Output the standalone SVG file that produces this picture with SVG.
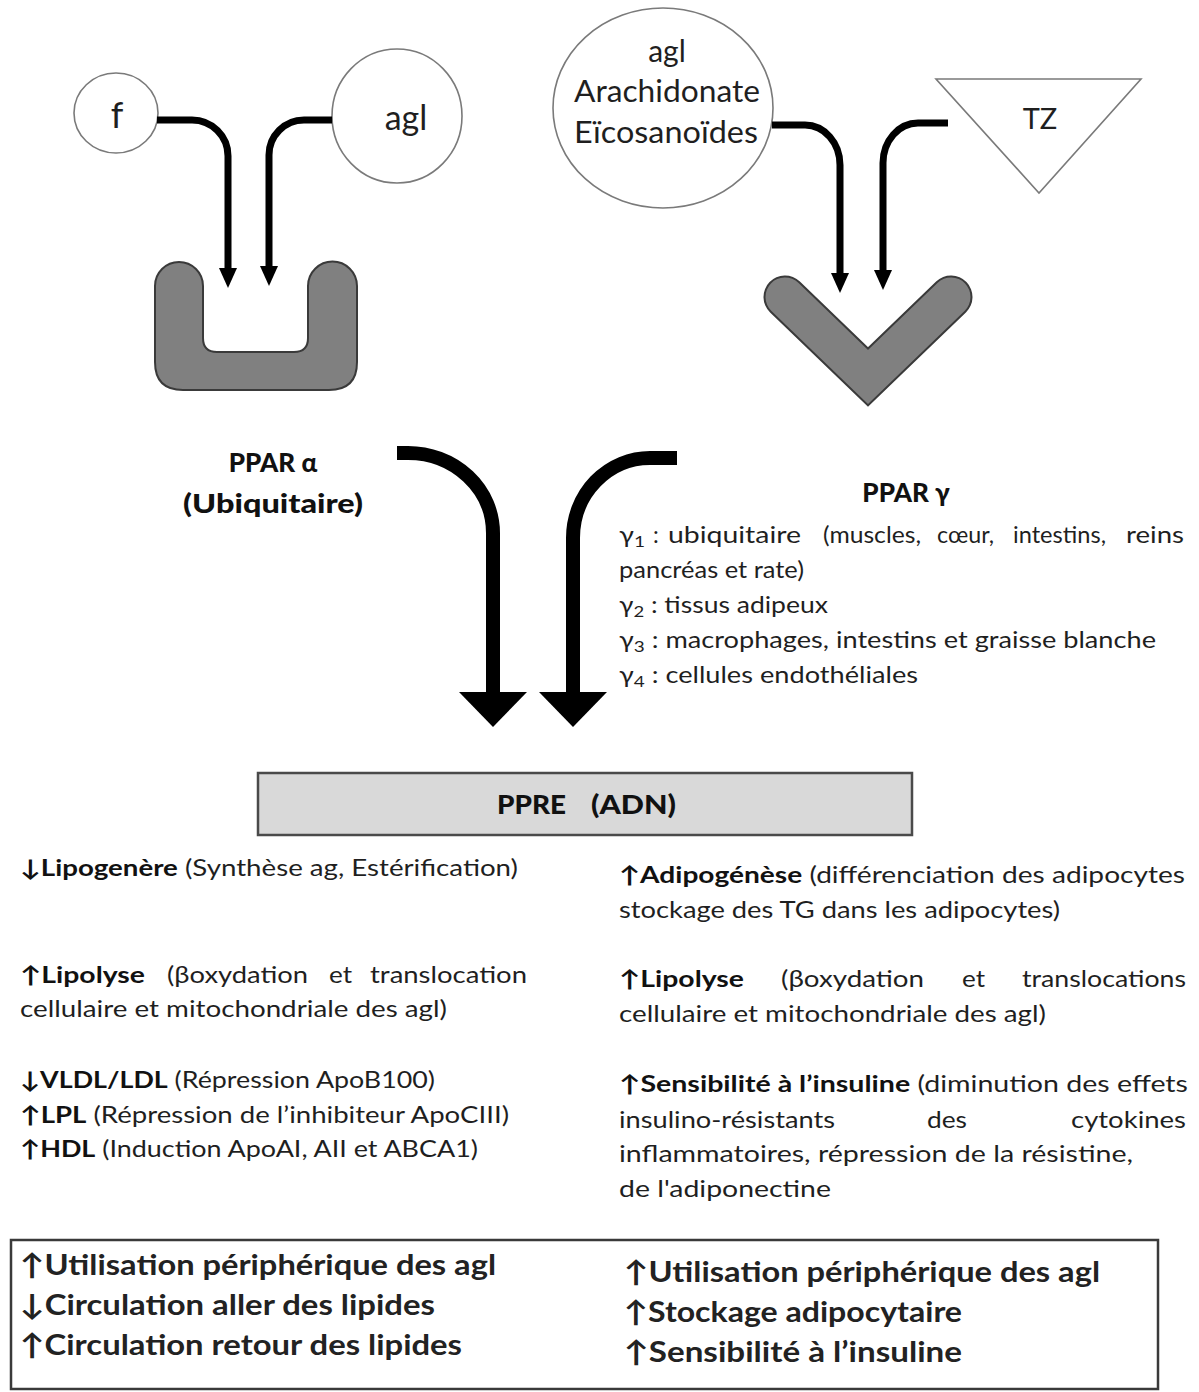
<svg xmlns="http://www.w3.org/2000/svg" width="1199" height="1392" viewBox="0 0 1199 1392">
<defs>
<style>
.t{font-family:Lato,"Open Sans","Liberation Sans",sans-serif;font-size:23px;fill:#1f1f1f}
.b{font-weight:bold;fill:#111}
.h{font-family:Lato,"Open Sans","Liberation Sans",sans-serif;font-size:26px;font-weight:900;fill:#111}
.big{font-family:Lato,"Open Sans","Liberation Sans",sans-serif;font-size:29px;font-weight:bold;fill:#222}
.node{fill:#fff;stroke:#7a7a7a;stroke-width:1.6}
.thin{fill:none;stroke:#000;stroke-width:7}
.thick{fill:none;stroke:#000;stroke-width:14}
.rec{fill:#808080;stroke:#3a3a3a;stroke-width:2}
</style>
<marker id="ah" viewBox="0 0 20 18" refX="0" refY="9" markerWidth="20" markerHeight="18" markerUnits="userSpaceOnUse" orient="auto">
<path d="M0,0 L20,9 L0,18 Z" fill="#000"/>
</marker>
</defs>
<rect width="1199" height="1392" fill="#fff"/>

<g id="node-f">
<ellipse class="node" cx="116" cy="113" rx="42" ry="40"/>
<text class="t" x="117" y="128" style="font-size:36px" text-anchor="middle">f</text>
</g>
<g id="node-agl">
<ellipse class="node" cx="397" cy="116" rx="65" ry="67"/>
<text class="t" x="406" y="130" style="font-size:34px" text-anchor="middle">agl</text>
</g>
<g id="node-agl2">
<ellipse class="node" cx="663" cy="108" rx="110" ry="100"/>
<text class="t" x="667" y="62" style="font-size:30px" text-anchor="middle">agl</text>
<text class="t" x="667" y="102" style="font-size:30px" text-anchor="middle" textLength="186" lengthAdjust="spacingAndGlyphs">Arachidonate</text>
<text class="t" x="666" y="143" style="font-size:30px" text-anchor="middle" textLength="184" lengthAdjust="spacingAndGlyphs">Eïcosanoïdes</text>
</g>
<g id="node-tz">
<polygon class="node" points="936,79 1141,79 1039,193"/>
<text class="t" x="1040" y="129" style="font-size:29px" text-anchor="middle">TZ</text>
</g>
<g id="ppar-alpha">
<path class="rec" d="M155,286 A24,24 0 0 1 203,286 L203,338 Q203,352 217,352 L294,352 Q308,352 308,338 L308,286 A24.5,24.5 0 0 1 357,286 L357,362 Q357,390 329,390 L183,390 Q155,390 155,362 Z"/>
<text class="h" x="273" y="472" text-anchor="middle">PPAR α</text>
<text class="h" x="273" y="513" text-anchor="middle" textLength="180" lengthAdjust="spacingAndGlyphs">(Ubiquitaire)</text>
</g>
<g id="ppar-gamma">
<path d="M785,297 L868,377 L951,297" fill="none" stroke="#3a3a3a" stroke-width="43" stroke-linecap="round" stroke-linejoin="miter"/>
<path d="M785,297 L868,377 L951,297" fill="none" stroke="#808080" stroke-width="39" stroke-linecap="round" stroke-linejoin="miter"/>
<text class="h" x="906" y="502" text-anchor="middle">PPAR γ</text>
<text class="t" x="619" y="543" textLength="26" lengthAdjust="spacingAndGlyphs">γ<tspan style="font-size:16px" dy="4">1</tspan></text>
<text class="t" x="653" y="543">:</text>
<text class="t" x="668" y="543" textLength="133" lengthAdjust="spacingAndGlyphs">ubiquitaire</text>
<text class="t" x="823" y="543" textLength="98" lengthAdjust="spacingAndGlyphs">(muscles,</text>
<text class="t" x="937" y="543" textLength="57" lengthAdjust="spacingAndGlyphs">cœur,</text>
<text class="t" x="1013" y="543" textLength="93" lengthAdjust="spacingAndGlyphs">intestins,</text>
<text class="t" x="1126" y="543" textLength="58" lengthAdjust="spacingAndGlyphs">reins</text>
<text class="t" x="619" y="578" textLength="185" lengthAdjust="spacingAndGlyphs">pancréas et rate)</text>
<text class="t" x="619" y="613" textLength="209" lengthAdjust="spacingAndGlyphs">γ<tspan style="font-size:16px" dy="4">2</tspan><tspan dy="-4"> : tissus adipeux</tspan></text>
<text class="t" x="619" y="648" textLength="537" lengthAdjust="spacingAndGlyphs">γ<tspan style="font-size:16px" dy="4">3</tspan><tspan dy="-4"> : macrophages, intestins et graisse blanche</tspan></text>
<text class="t" x="619" y="683" textLength="299" lengthAdjust="spacingAndGlyphs">γ<tspan style="font-size:16px" dy="4">4</tspan><tspan dy="-4"> : cellules endothéliales</tspan></text>
</g>

<g id="connectors">
<path class="thin" d="M157,120 L192,120 A36,36 0 0 1 228,156 L228,268" marker-end="url(#ah)"/>
<path class="thin" d="M332,120 L304,120 A35,35 0 0 0 269,155 L269,266" marker-end="url(#ah)"/>
<path class="thin" d="M772,125 L805,125 A35,40 0 0 1 840,165 L840,273" marker-end="url(#ah)"/>
<path class="thin" d="M948,123 L918,123 A35,40 0 0 0 883,163 L883,270" marker-end="url(#ah)"/>
<path class="thick" d="M397,453 L408,453 A85,80 0 0 1 493,533 L493,694"/>
<polygon points="459,692 527,692 493,727" fill="#000"/>
<path class="thick" d="M677,458 L650,458 A77,80 0 0 0 573,538 L573,694"/>
<polygon points="539,692 607,692 573,727" fill="#000"/>
</g>

<g id="ppre">
<rect x="258" y="773" width="654" height="62" fill="#d9d9d9" stroke="#4a4a4a" stroke-width="2.5"/>
<text class="h" x="497" y="814" style="font-size:26px" textLength="69" lengthAdjust="spacingAndGlyphs">PPRE</text>
<text class="h" x="591" y="814" style="font-size:26px" textLength="85" lengthAdjust="spacingAndGlyphs">(ADN)</text>
</g>

<g id="effects-alpha">
<text class="t" x="20" y="876" textLength="498" lengthAdjust="spacingAndGlyphs"><tspan class="b">↓Lipogenère</tspan> (Synthèse ag, Estérification)</text>
<text class="t b" x="20" y="983" textLength="125" lengthAdjust="spacingAndGlyphs">↑Lipolyse</text>
<text class="t" x="167" y="983" textLength="141" lengthAdjust="spacingAndGlyphs">(βoxydation</text>
<text class="t" x="329" y="983" textLength="23" lengthAdjust="spacingAndGlyphs">et</text>
<text class="t" x="370" y="983" textLength="157" lengthAdjust="spacingAndGlyphs">translocation</text>
<text class="t" x="20" y="1017" textLength="427" lengthAdjust="spacingAndGlyphs">cellulaire et mitochondriale des agl)</text>
<text class="t" x="20" y="1088" textLength="415" lengthAdjust="spacingAndGlyphs"><tspan class="b">↓VLDL/LDL</tspan> (Répression ApoB100)</text>
<text class="t" x="20" y="1123" textLength="489" lengthAdjust="spacingAndGlyphs"><tspan class="b">↑LPL</tspan> (Répression de l’inhibiteur ApoCIII)</text>
<text class="t" x="20" y="1157" textLength="458" lengthAdjust="spacingAndGlyphs"><tspan class="b">↑HDL</tspan> (Induction ApoAI, AII et ABCA1)</text>
</g>

<g id="effects-gamma">
<text class="t" x="619" y="883" textLength="566" lengthAdjust="spacingAndGlyphs"><tspan class="b">↑Adipogénèse</tspan> (différenciation des adipocytes</text>
<text class="t" x="619" y="918" textLength="441" lengthAdjust="spacingAndGlyphs">stockage des TG dans les adipocytes)</text>
<text class="t b" x="619" y="987" textLength="125" lengthAdjust="spacingAndGlyphs">↑Lipolyse</text>
<text class="t" x="781" y="987" textLength="143" lengthAdjust="spacingAndGlyphs">(βoxydation</text>
<text class="t" x="962" y="987" textLength="23" lengthAdjust="spacingAndGlyphs">et</text>
<text class="t" x="1022" y="987" textLength="164" lengthAdjust="spacingAndGlyphs">translocations</text>
<text class="t" x="619" y="1022" textLength="427" lengthAdjust="spacingAndGlyphs">cellulaire et mitochondriale des agl)</text>
<text class="t" x="619" y="1092" textLength="569" lengthAdjust="spacingAndGlyphs"><tspan class="b">↑Sensibilité à l’insuline</tspan> (diminution des effets</text>
<text class="t" x="619" y="1128" textLength="216" lengthAdjust="spacingAndGlyphs">insulino-résistants</text>
<text class="t" x="927" y="1128" textLength="40" lengthAdjust="spacingAndGlyphs">des</text>
<text class="t" x="1071" y="1128" textLength="115" lengthAdjust="spacingAndGlyphs">cytokines</text>
<text class="t" x="619" y="1162" textLength="514" lengthAdjust="spacingAndGlyphs">inflammatoires,  répression de la résistine,</text>
<text class="t" x="619" y="1197" textLength="212" lengthAdjust="spacingAndGlyphs">de l'adiponectine</text>
</g>

<g id="summary">
<rect x="11" y="1240" width="1147" height="149" fill="none" stroke="#3a3a3a" stroke-width="2.5"/>
<text class="big" x="20" y="1275" textLength="476" lengthAdjust="spacingAndGlyphs">↑Utilisation périphérique des agl</text>
<text class="big" x="20" y="1315" textLength="415" lengthAdjust="spacingAndGlyphs">↓Circulation aller des lipides</text>
<text class="big" x="20" y="1355" textLength="442" lengthAdjust="spacingAndGlyphs">↑Circulation retour des lipides</text>
<text class="big" x="624" y="1282" textLength="476" lengthAdjust="spacingAndGlyphs">↑Utilisation périphérique des agl</text>
<text class="big" x="624" y="1322" textLength="338" lengthAdjust="spacingAndGlyphs">↑Stockage adipocytaire</text>
<text class="big" x="624" y="1362" textLength="338" lengthAdjust="spacingAndGlyphs">↑Sensibilité à l’insuline</text>
</g>
</svg>
